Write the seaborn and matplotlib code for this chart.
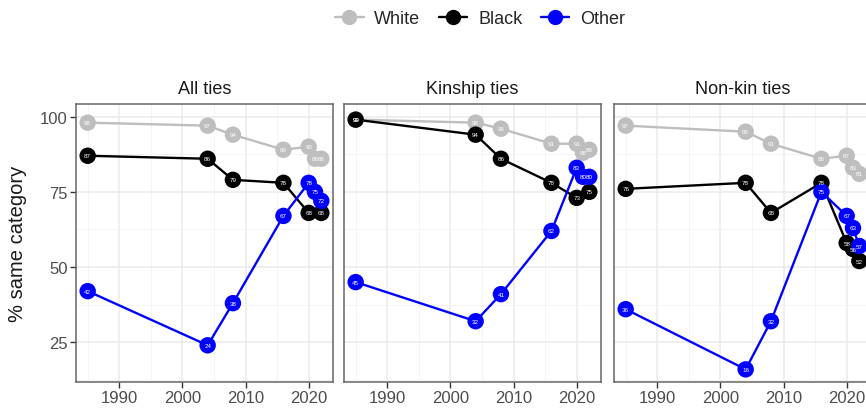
import pandas as pd
from matplotlib import pyplot as plt
from matplotlib.lines import Line2D
import seaborn as sns

years = [1985, 2004, 2008, 2016, 2020, 2021, 2022]
panels = ["All ties", "Kinship ties", "Non-kin ties"]
races = ["White", "Black", "Other"]
colors = {"White": "#BEBEBE", "Black": "#000000", "Other": "#0000FF"}

# None = no point shown for that year
all_white = [98, 97, 94, 89, 90, 86, 86]
all_black = [87, 86, 79, 78, 68, None, 68]
all_other = [42, 24, 38, 67, 78, 75, 72]
kin_white = [99, 98, 96, 91, 91, 88, 89]
kin_black = [99, 94, 86, 78, 73, None, 75]
kin_other = [45, 32, 41, 62, 83, 80, 80]
nonkin_white = [97, 95, 91, 86, 87, 83, 81]
nonkin_black = [76, 78, 68, 78, 58, 56, 52]
nonkin_other = [36, 16, 32, 75, 67, 63, 57]

series = {
    "All ties": [all_white, all_black, all_other],
    "Kinship ties": [kin_white, kin_black, kin_other],
    "Non-kin ties": [nonkin_white, nonkin_black, nonkin_other],
}

rows = []
for panel in panels:
    for race, vals in zip(races, series[panel]):
        for yr, v in zip(years, vals):
            if v is not None:
                rows.append({"panel": panel, "race": race, "year": yr, "pct": v})
df = pd.DataFrame(rows)

sns.set_theme(style="white")
plt.rcParams['font.family'] = ['Liberation Sans', 'DejaVu Sans']

fig = plt.figure(figsize=(8.66, 4.10), dpi=100)
lefts = [76, 344, 614]

for i, panel in enumerate(panels):
    ax = fig.add_axes([lefts[i] / 866, 27 / 410, 257 / 866, 278 / 410])
    sub = df[df.panel == panel]

    ax.set_xticks([1990, 2000, 2010, 2020])
    ax.set_xticks([1985, 1995, 2005, 2015], minor=True)
    ax.set_yticks([25, 50, 75, 100])
    ax.set_yticks([12.5, 37.5, 62.5, 87.5], minor=True)
    ax.grid(which='major', color='#EBEBEB', lw=1.1)
    ax.grid(which='minor', color='#F2F2F2', lw=0.6)
    ax.set_axisbelow(True)

    sns.lineplot(data=sub, x='year', y='pct', hue='race', hue_order=races,
                 palette=colors, lw=1.7, legend=False, ax=ax, zorder=2,
                 estimator=None)
    sns.scatterplot(data=sub, x='year', y='pct', hue='race', hue_order=races,
                    palette=colors, s=140, linewidth=0, legend=False, ax=ax,
                    zorder=3)
    for r in sub.itertuples():
        ax.text(r.year, r.pct, str(r.pct), color='white', fontsize=4.5,
                ha='center', va='center', zorder=4)

    ax.set_xlim(1983.15, 2023.85)
    ax.set_ylim(11.8, 104.2)
    ax.set_xlabel('')
    ax.set_ylabel('')
    ax.set_title(panel, fontsize=13, pad=8, color='#1A1A1A')
    ax.tick_params(which='major', length=4, color='#333333', width=1,
                   labelsize=12, labelcolor='#4D4D4D', pad=2,
                   bottom=True, left=True)
    ax.tick_params(which='minor', length=0)
    if i > 0:
        ax.tick_params(axis='y', left=False, labelleft=False)
    for sp in ax.spines.values():
        sp.set_color('#666666')
        sp.set_linewidth(1.1)

fig.text(18 / 866, 0.405, '% same category', rotation=90, fontsize=14.5,
         va='center', ha='center', color='#1A1A1A')

handles = [Line2D([0], [0], color=colors[r], marker='o', markersize=10, lw=1.7)
           for r in races]
fig.legend(handles, races, loc='center', bbox_to_anchor=(480 / 866, 1 - 20 / 410),
           ncol=3, frameon=False, fontsize=13, handlelength=1.6,
           columnspacing=1.0, handletextpad=0.6)

fig.savefig('out.png', dpi=100)
